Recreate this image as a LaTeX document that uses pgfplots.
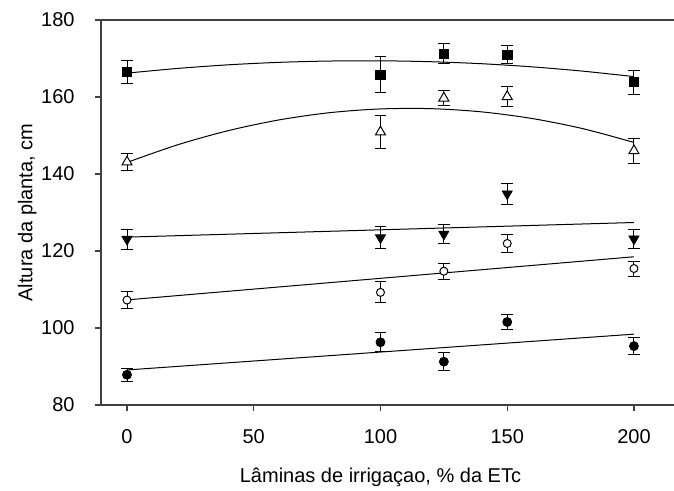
\documentclass[border=0pt]{standalone}
\usepackage{pgfplots}
\pgfplotsset{compat=1.18}
\usepackage{fontspec}
\setmainfont{Liberation Sans}
\begin{document}
\fontsize{10pt}{12pt}\selectfont
\begin{tikzpicture}
\begin{axis}[
  name=ax,
  scale only axis,
  width=286.5pt, height=192.5pt,
  xmin=-10.26, xmax=215.8,
  ymin=80, ymax=180,
  axis x line=box, axis y line=left,
  axis line style={-, black!75, line width=0.6pt},
  xtick={0,50,100,150,200}, ytick={80,100,...,180},
  xtick pos=bottom, ytick pos=left,
  tick align=outside,
  major tick length=3pt,
  tick style={black!75, line width=0.6pt},
  minor tick num=0,
  /pgf/number format/assume math mode=true,
  ticklabel style={font=\fontsize{10pt}{12pt}\selectfont},
  yticklabel style={anchor=east, inner sep=0pt, xshift=-10pt},
  xticklabel style={anchor=north, inner sep=0pt, yshift=-9pt},
  xlabel={Lâminas de irrigaçao, \% da ETc},
  ylabel={Altura da planta, cm},
  every axis x label/.style={at={(axis description cs:0.5,0)}, anchor=base, yshift=-39pt, xshift=-3.5pt, font=\fontsize{10pt}{12pt}\selectfont},
  every axis y label/.style={at={(axis description cs:-0.1197,0.5)}, anchor=base, rotate=90, font=\fontsize{10pt}{12pt}\selectfont},
  clip=false,
]
% fitted curves
\addplot[black, line width=0.5pt, smooth, no marks] coordinates {
(0,166.2) (20,167.42) (40,168.36) (60,169.0) (80,169.34) (100,169.4) (120,169.16) (140,168.64) (160,167.82) (180,166.70) (200,165.3)};
\addplot[black, line width=0.5pt, smooth, no marks] coordinates {
(0,143.0) (20,147.59) (40,151.27) (60,154.05) (80,155.93) (100,156.9) (120,156.97) (140,156.13) (160,154.39) (180,151.75) (200,148.2)};
\addplot[black, line width=0.5pt, no marks] coordinates {(0,123.6) (200,127.4)};
\addplot[black, line width=0.5pt, no marks] coordinates {(0,107.3) (200,118.5)};
\addplot[black, line width=0.5pt, no marks] coordinates {(0,89.1) (200,98.4)};
% data with error bars
\pgfplotsset{every error bar/.style={black, line width=0.5pt}}
\addplot[only marks, mark=square*, mark size=2.35pt, mark options={black, fill=black},
  error bars/.cd, y dir=both, y explicit, error mark options={rotate=90, mark size=2.9pt, black, line width=0.5pt}]
coordinates {
(0,166.5) +- (0,3.1)
(100,165.8) +- (0,4.7)
(125,171.25) +- (0,2.65)
(150,171.0) +- (0,2.3)
(200,163.85) +- (0,3.15)};
\addplot[only marks, mark=triangle*, mark size=2.9pt, mark options={black, fill=white, line width=0.5pt},
  error bars/.cd, y dir=both, y explicit, error mark options={rotate=90, mark size=2.9pt, black, line width=0.5pt}]
coordinates {
(0,143.1) +- (0,2.3)
(100,150.9) +- (0,4.4)
(125,159.7) +- (0,1.95)
(150,160.1) +- (0,2.6)
(200,146.05) +- (0,3.25)};
\addplot[only marks, mark=triangle*, mark size=2.9pt, mark options={black, fill=black, rotate=180},
  error bars/.cd, y dir=both, y explicit, error mark options={rotate=90, mark size=2.9pt, black, line width=0.5pt}]
coordinates {
(0,123.05) +- (0,2.55)
(100,123.45) +- (0,2.85)
(125,124.4) +- (0,2.4)
(150,134.85) +- (0,2.75)
(200,123.15) +- (0,2.45)};
\addplot[only marks, mark=*, mark size=2pt, mark options={black, fill=white, line width=0.5pt},
  error bars/.cd, y dir=both, y explicit, error mark options={rotate=90, mark size=2.9pt, black, line width=0.5pt}]
coordinates {
(0,107.25) +- (0,2.15)
(100,109.25) +- (0,2.75)
(125,114.75) +- (0,2.05)
(150,121.95) +- (0,2.25)
(200,115.45) +- (0,1.95)};
\addplot[only marks, mark=*, mark size=2.25pt, mark options={black, fill=black},
  error bars/.cd, y dir=both, y explicit, error mark options={rotate=90, mark size=2.9pt, black, line width=0.5pt}]
coordinates {
(0,87.85) +- (0,1.75)
(100,96.3) +- (0,2.45)
(125,91.25) +- (0,2.35)
(150,101.55) +- (0,2.05)
(200,95.3) +- (0,2.3)};
\end{axis}
\pgfresetboundingbox
\useasboundingbox ([shift={(-50.5pt,-43pt)}]ax.south west) rectangle ([shift={(286.5pt,202.5pt)}]ax.south west);
\end{tikzpicture}
\end{document}
